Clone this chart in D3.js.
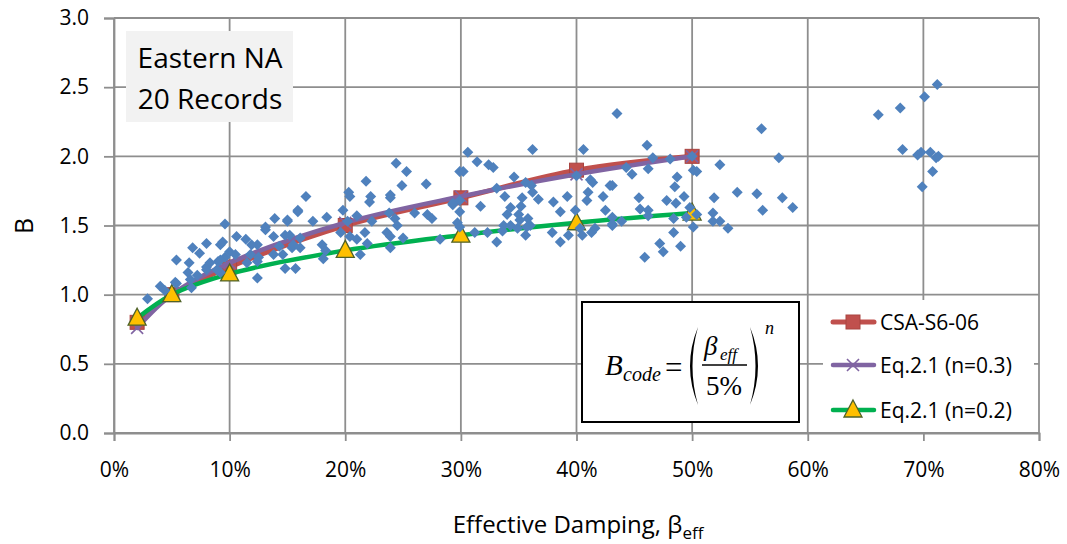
<!DOCTYPE html>
<html>
<head>
<meta charset="utf-8">
<script src="https://cdn.jsdelivr.net/npm/d3@7"></script>
<style>
  body { margin: 0; background: #fff; }
  text { font-family: "Open Sans", Lato, sans-serif; fill: #000; }
  .math { font-family: "Liberation Serif", "DejaVu Serif", serif; }
</style>
</head>
<body>
<svg id="chart" width="1067" height="544"></svg>
<script>
// damping ratios (%) where the code / equation curves are evaluated
var dampPct = [2, 5, 10, 20, 30, 40, 50];
var csaS606 = [0.80, 1.00, 1.20, 1.50, 1.70, 1.90, 2.00];
var eqN03   = [0.76, 1.00, 1.23, 1.52, 1.71, 1.87, 2.00];
var eqN02   = [0.83, 1.00, 1.15, 1.32, 1.43, 1.52, 1.59];

var xTicks = [0, 10, 20, 30, 40, 50, 60, 70, 80];
var yTicks = [0, 0.5, 1.0, 1.5, 2.0, 2.5, 3.0];

var legendNames = ['CSA-S6-06', 'Eq.2.1 (n=0.3)', 'Eq.2.1 (n=0.2)'];

// record results: [effective damping %, B]
var records = [
  [2.9,0.97],[4.0,1.06],[4.4,1.03],[5.3,1.09],[5.4,1.08],[5.4,1.25],[6.5,1.23],[6.4,1.16],
  [6.8,1.34],[7.4,1.30],[8.0,1.37],[7.2,1.14],[6.6,1.11],[6.7,1.05],[8.0,1.20],[8.3,1.23],
  [9.2,1.36],[9.4,1.38],[9.0,1.24],[9.2,1.16],[9.6,1.27],[10.0,1.31],[10.5,1.29],[10.6,1.42],
  [11.4,1.40],[12.4,1.36],[11.9,1.36],[11.8,1.29],[12.5,1.27],[11.5,1.23],[12.4,1.24],[12.4,1.12],
  [13.1,1.47],[13.8,1.42],[14.8,1.43],[13.8,1.29],[14.6,1.29],[14.8,1.19],[15.7,1.19],[9.6,1.51],
  [13.1,1.49],[13.9,1.55],[15.0,1.53],[15.9,1.60],[15.4,1.34],[9.2,1.25],[8.9,1.18],[8.0,1.18],
  [24.4,1.95],[25.3,1.89],[21.8,1.82],[24.9,1.79],[27.0,1.80],[16.6,1.71],[20.3,1.74],[20.4,1.71],
  [22.2,1.71],[22.1,1.67],[23.9,1.72],[23.9,1.70],[15.9,1.61],[15.0,1.54],[17.2,1.53],[18.4,1.56],
  [19.8,1.61],[20.2,1.53],[21.0,1.57],[22.3,1.53],[23.8,1.59],[24.3,1.55],[24.5,1.50],[26.0,1.59],
  [27.1,1.58],[27.5,1.55],[15.2,1.43],[16.1,1.41],[15.5,1.36],[14.3,1.35],[18.0,1.36],[18.3,1.32],
  [19.6,1.45],[20.4,1.42],[21.0,1.40],[21.3,1.29],[21.7,1.45],[23.6,1.45],[23.9,1.42],[25.0,1.41],
  [23.9,1.34],[21.9,1.37],[28.2,1.40],[29.7,1.52],[29.3,1.65],[29.9,1.89],[18.1,1.26],[16.1,1.34],
  [43.5,2.31],[30.6,2.03],[36.2,2.05],[40.6,2.05],[31.4,1.96],[32.4,1.94],[32.8,1.92],[30.2,1.89],
  [34.6,1.85],[35.6,1.81],[36.1,1.79],[41.2,1.83],[41.4,1.81],[42.9,1.79],[40.0,1.86],[33.1,1.77],
  [36.2,1.74],[41.0,1.74],[42.3,1.71],[33.8,1.71],[35.3,1.70],[36.7,1.69],[39.2,1.71],[40.9,1.68],
  [29.3,1.66],[29.9,1.68],[31.7,1.64],[38.0,1.67],[35.2,1.64],[34.3,1.63],[29.9,1.60],[38.6,1.60],
  [39.9,1.61],[42.5,1.61],[34.0,1.58],[35.0,1.58],[35.8,1.55],[35.1,1.54],[36.0,1.50],[43.1,1.56],
  [29.9,1.49],[33.7,1.50],[34.3,1.50],[34.9,1.48],[35.7,1.49],[31.2,1.45],[32.3,1.45],[33.6,1.46],
  [35.6,1.43],[37.9,1.45],[39.3,1.43],[40.5,1.43],[40.3,1.48],[41.3,1.45],[41.6,1.48],[43.1,1.50],
  [33.1,1.38],[38.6,1.38],
  [56.0,2.20],[46.1,2.08],[46.6,1.99],[48.1,1.98],[50.0,2.00],[57.5,1.99],[52.4,1.94],[44.3,1.92],
  [46.2,1.91],[50.1,1.90],[50.4,1.89],[44.8,1.87],[48.7,1.85],[43.1,1.79],[48.5,1.78],[53.9,1.74],
  [55.6,1.73],[51.9,1.70],[49.3,1.71],[45.4,1.70],[47.8,1.68],[48.6,1.66],[57.8,1.70],[58.7,1.63],
  [56.1,1.61],[45.5,1.62],[46.2,1.61],[49.8,1.63],[51.8,1.59],[50.4,1.58],[49.5,1.56],[46.2,1.57],
  [48.4,1.55],[52.4,1.53],[51.8,1.53],[43.9,1.53],[43.1,1.51],[50.1,1.49],[53.1,1.48],[48.4,1.45],
  [47.2,1.37],[49.0,1.35],[47.5,1.31],[45.9,1.27],
  [71.2,2.52],[70.1,2.43],[68.0,2.35],[66.1,2.30],[68.2,2.05],[69.5,2.01],[69.8,2.03],[70.6,2.03],
  [71.1,1.99],[71.3,2.00],[70.8,1.89],[69.9,1.78]
];

var GRID = '#8e8e8e';
var svg = d3.select('#chart');
svg.append('rect').attr('width', 1067).attr('height', 544).attr('fill', '#fff');

var x = d3.scaleLinear().domain([0, 80]).range([114, 1039]);
var y = d3.scaleLinear().domain([0, 3]).range([433, 18]);

// grid
svg.append('g').selectAll('line').data(xTicks).enter().append('line')
  .attr('x1', function (d) { return x(d); }).attr('x2', function (d) { return x(d); })
  .attr('y1', y(3)).attr('y2', y(0))
  .attr('stroke', GRID).attr('stroke-width', 1.8);
svg.append('g').selectAll('line').data(yTicks).enter().append('line')
  .attr('x1', x(0)).attr('x2', x(80))
  .attr('y1', function (d) { return y(d); }).attr('y2', function (d) { return y(d); })
  .attr('stroke', GRID).attr('stroke-width', 1.8);

// axes
var yAxis = svg.append('g').attr('transform', 'translate(' + x(0) + ',0)')
  .call(d3.axisLeft(y).tickValues(yTicks).tickFormat(d3.format('.1f')).tickSize(10).tickPadding(15));
var xAxis = svg.append('g').attr('transform', 'translate(0,' + y(0) + ')')
  .call(d3.axisBottom(x).tickValues(xTicks).tickFormat(function (d) { return d + '%'; }).tickSize(8).tickPadding(21));
[yAxis, xAxis].forEach(function (a) {
  a.select('.domain').attr('stroke', GRID).attr('stroke-width', 1.8);
  a.selectAll('.tick line').attr('stroke', GRID).attr('stroke-width', 1.8);
  a.selectAll('.tick text').attr('font-size', 21).attr('font-family', '"Open Sans"').attr('fill', '#000');
});

// axis titles
svg.append('text').attr('transform', 'translate(33,226) rotate(-90)')
  .attr('text-anchor', 'middle').attr('font-size', 25).text('B');
var xt = svg.append('text').attr('x', 578).attr('y', 533).attr('text-anchor', 'middle').attr('font-size', 24);
xt.append('tspan').text('Effective Damping, \u03b2');
xt.append('tspan').attr('font-size', 17).attr('dy', 6).text('eff');

// curves
var line = d3.line()
  .x(function (d) { return x(d[0]); })
  .y(function (d) { return y(d[1]); })
  .curve(d3.curveCatmullRom.alpha(0.5));

function zip(vals) { return dampPct.map(function (p, i) { return [p, vals[i]]; }); }

function squareMark(g, px, py) {
  g.append('rect').attr('x', px - 7).attr('y', py - 7).attr('width', 14).attr('height', 14)
    .attr('fill', '#C0504D').attr('stroke', '#A94441').attr('stroke-width', 1);
}
function crossMark(g, px, py) {
  g.append('path').attr('d', 'M' + (px - 6) + ',' + (py - 6) + 'L' + (px + 6) + ',' + (py + 6) +
      'M' + (px - 6) + ',' + (py + 6) + 'L' + (px + 6) + ',' + (py - 6))
    .attr('stroke', '#8064A2').attr('stroke-width', 1.6).attr('fill', 'none');
}
function triMark(g, px, py) {
  g.append('path').attr('d', 'M' + px + ',' + (py - 10) + 'L' + (px + 9) + ',' + (py + 7) + 'L' + (px - 9) + ',' + (py + 7) + 'Z')
    .attr('fill', '#FFC000').attr('stroke', '#4F6228').attr('stroke-width', 1.3);
}

var series = [
  { vals: csaS606, color: '#C0504D', width: 5, mark: squareMark },
  { vals: eqN03, color: '#8064A2', width: 4.5, mark: crossMark },
  { vals: eqN02, color: '#00B050', width: 4.5, mark: triMark }
];

series.forEach(function (s) {
  var g = svg.append('g');
  var pts = zip(s.vals);
  g.append('path').datum(pts).attr('d', line)
    .attr('fill', 'none').attr('stroke', s.color).attr('stroke-width', s.width)
    .attr('stroke-linecap', 'round').attr('stroke-linejoin', 'round');
  pts.forEach(function (p) { s.mark(g, x(p[0]), y(p[1])); });
});

// scatter of records
svg.append('g').selectAll('path').data(records).enter().append('path')
  .attr('transform', function (d) { return 'translate(' + x(d[0]) + ',' + y(d[1]) + ')'; })
  .attr('d', 'M0,-5.5L5.5,0L0,5.5L-5.5,0Z')
  .attr('fill', '#4F81BD');

// title box
svg.append('rect').attr('x', 126).attr('y', 31).attr('width', 167).attr('height', 91).attr('fill', '#F2F2F2');
svg.append('text').attr('x', 210).attr('y', 68).attr('text-anchor', 'middle').attr('font-size', 28).text('Eastern NA');
svg.append('text').attr('x', 210).attr('y', 109).attr('text-anchor', 'middle').attr('font-size', 28).text('20 Records');

// formula box
svg.append('rect').attr('x', 582).attr('y', 302).attr('width', 217).attr('height', 120)
  .attr('fill', '#fff').attr('stroke', '#000').attr('stroke-width', 2);
var fm = svg.append('g').attr('class', 'math');
fm.append('text').attr('class', 'math').attr('x', 605).attr('y', 375).attr('font-size', 29).attr('font-style', 'italic').text('B');
fm.append('text').attr('class', 'math').attr('x', 623).attr('y', 381).attr('font-size', 20).attr('font-style', 'italic').text('code');
fm.append('text').attr('class', 'math').attr('x', 665).attr('y', 378).attr('font-size', 31).text('=');
fm.append('path').attr('d', 'M698,327Q682,366 698,405Q687,366 698,327Z').attr('fill', '#000');
fm.append('path').attr('d', 'M750,327Q766,366 750,405Q761,366 750,327Z').attr('fill', '#000');
fm.append('text').attr('class', 'math').attr('x', 704).attr('y', 355).attr('font-size', 27).attr('font-style', 'italic').text('\u03b2');
fm.append('text').attr('class', 'math').attr('x', 720).attr('y', 360).attr('font-size', 17).attr('font-style', 'italic').text('eff');
fm.append('line').attr('x1', 702).attr('x2', 747).attr('y1', 365).attr('y2', 365).attr('stroke', '#000').attr('stroke-width', 1.5);
fm.append('text').attr('class', 'math').attr('x', 706).attr('y', 395).attr('font-size', 27).text('5%');
fm.append('text').attr('class', 'math').attr('x', 765).attr('y', 334).attr('font-size', 18).attr('font-style', 'italic').text('n');

// legend
svg.append('rect').attr('x', 823).attr('y', 300).attr('width', 211).attr('height', 132).attr('fill', '#fff');
var legendY = [322, 365, 410];
series.forEach(function (s, i) {
  var g = svg.append('g');
  g.append('line').attr('x1', 833).attr('x2', 874).attr('y1', legendY[i]).attr('y2', legendY[i])
    .attr('stroke', s.color).attr('stroke-width', s.width).attr('stroke-linecap', 'round');
  s.mark(g, 853, legendY[i]);
  g.append('text').attr('x', 880).attr('y', legendY[i] + 8).attr('font-size', 21).text(legendNames[i]);
});
</script>
</body>
</html>
